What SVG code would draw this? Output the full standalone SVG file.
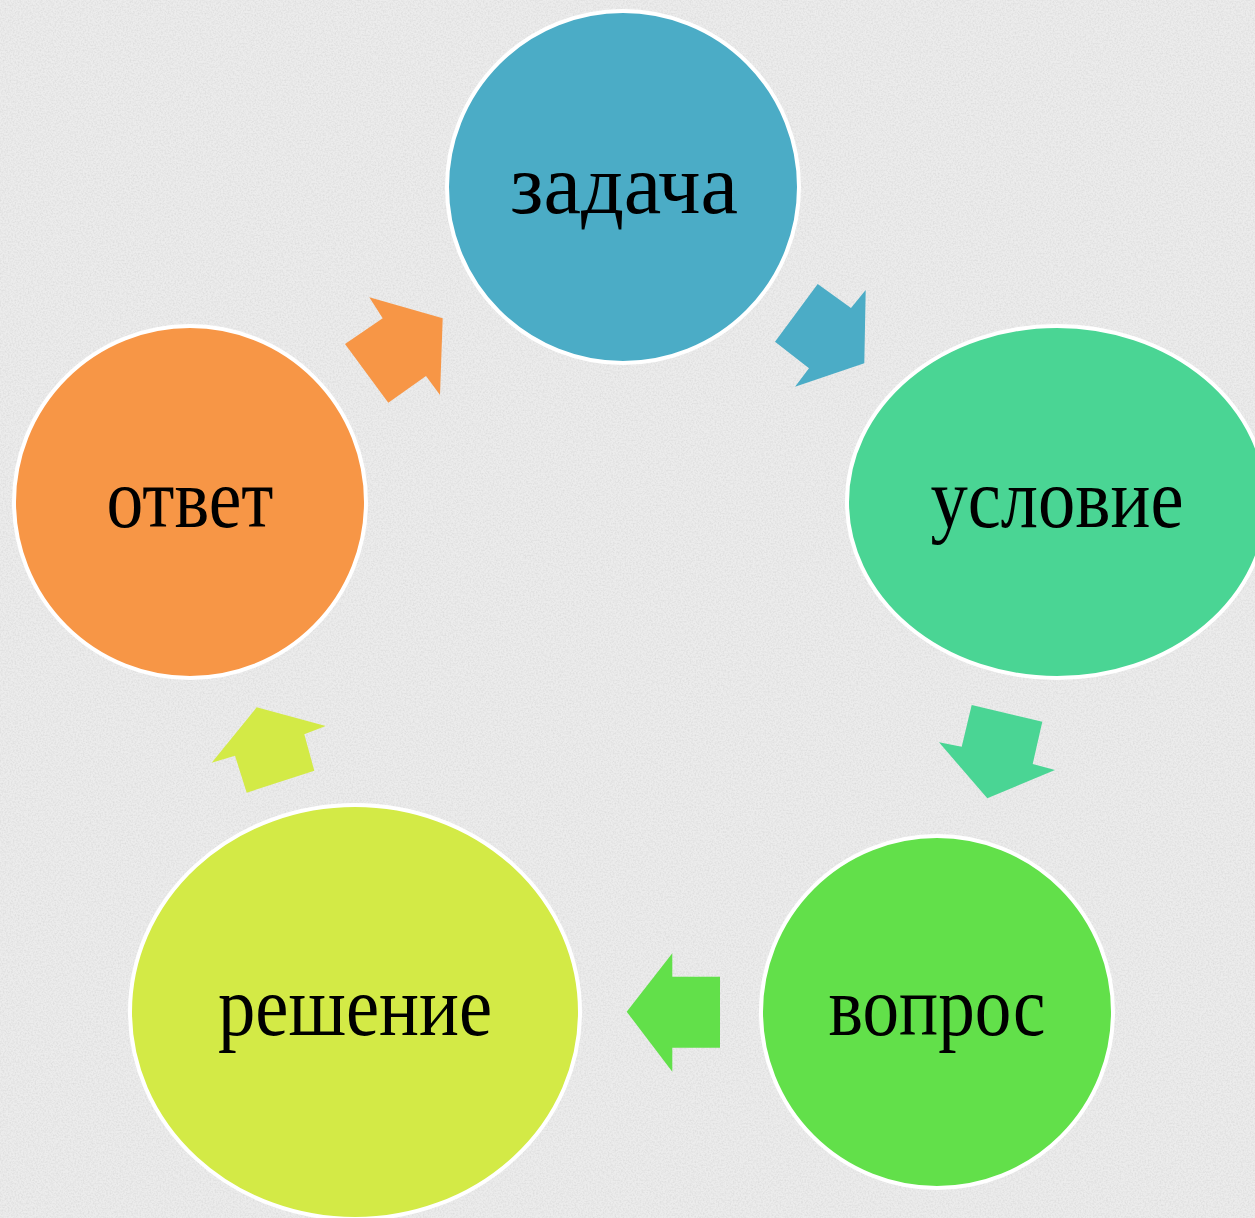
<svg xmlns="http://www.w3.org/2000/svg" width="1255" height="1218" viewBox="0 0 1255 1218">
<style>
.node{stroke:#ffffff;stroke-width:4}
.lbl{font-family:"Liberation Serif","Times New Roman",serif;font-size:84px;fill:#000000;text-anchor:middle}
</style>
<defs>
<filter id="noise" x="0" y="0" width="100%" height="100%">
<feTurbulence type="fractalNoise" baseFrequency="0.6" numOctaves="2" seed="3" result="t"/>
<feColorMatrix in="t" type="matrix" values="0 0 0 0 0.55  0 0 0 0 0.55  0 0 0 0 0.55  0 0 0 -1.6 1.0" result="n"/>
<feComposite in="n" in2="SourceGraphic" operator="in"/>
</filter>
</defs>
<rect x="0" y="0" width="1255" height="1218" fill="#ececec"/>
<rect x="0" y="0" width="1255" height="1218" fill="#ececec" filter="url(#noise)" opacity="0.45"/>
<g id="connectors">
<polygon points="817.7,284 851,308 865.7,290 864.3,363.3 795,386.7 809,368.3 775,341.7" fill="#4BACC6"/>
<polygon points="971.7,705 1042.3,721.7 1032.7,764 1055,770 987.3,798.3 939,742.3 961.7,746.7" fill="#4AD594"/>
<polygon points="626.7,1011.7 672.3,953.3 672.3,976.7 720,976.7 720,1047.7 672.3,1047.7 672.3,1071.7" fill="#62E04A"/>
<polygon points="256.7,707.3 325.7,726 304.3,734.3 314.3,770.7 246.7,792.7 235,755.7 211.7,762.7" fill="#D3EA46"/>
<polygon points="369.3,297.3 442.7,318.3 440,395 426,376 388.3,402.7 345,344 382.7,318.3" fill="#F79646"/>
</g>
<g id="node-zadacha">
<circle class="node" cx="623" cy="187" r="176" fill="#4BACC6"/>
<text class="lbl" x="624" y="213" textLength="228" lengthAdjust="spacingAndGlyphs">задача</text>
</g>
<g id="node-uslovie">
<ellipse class="node" cx="1057" cy="502" rx="210" ry="176" fill="#4AD594"/>
<text class="lbl" x="1057" y="527" textLength="253" lengthAdjust="spacingAndGlyphs">условие</text>
</g>
<g id="node-vopros">
<circle class="node" cx="937" cy="1012" r="176" fill="#62E04A"/>
<text class="lbl" x="937" y="1035" textLength="217" lengthAdjust="spacingAndGlyphs">вопрос</text>
</g>
<g id="node-reshenie">
<ellipse class="node" cx="355" cy="1012" rx="225" ry="207" fill="#D3EA46"/>
<text class="lbl" x="355" y="1035" textLength="274" lengthAdjust="spacingAndGlyphs">решение</text>
</g>
<g id="node-otvet">
<circle class="node" cx="190" cy="502" r="176" fill="#F79646"/>
<text class="lbl" x="190" y="527" textLength="167" lengthAdjust="spacingAndGlyphs">ответ</text>
</g>
</svg>
